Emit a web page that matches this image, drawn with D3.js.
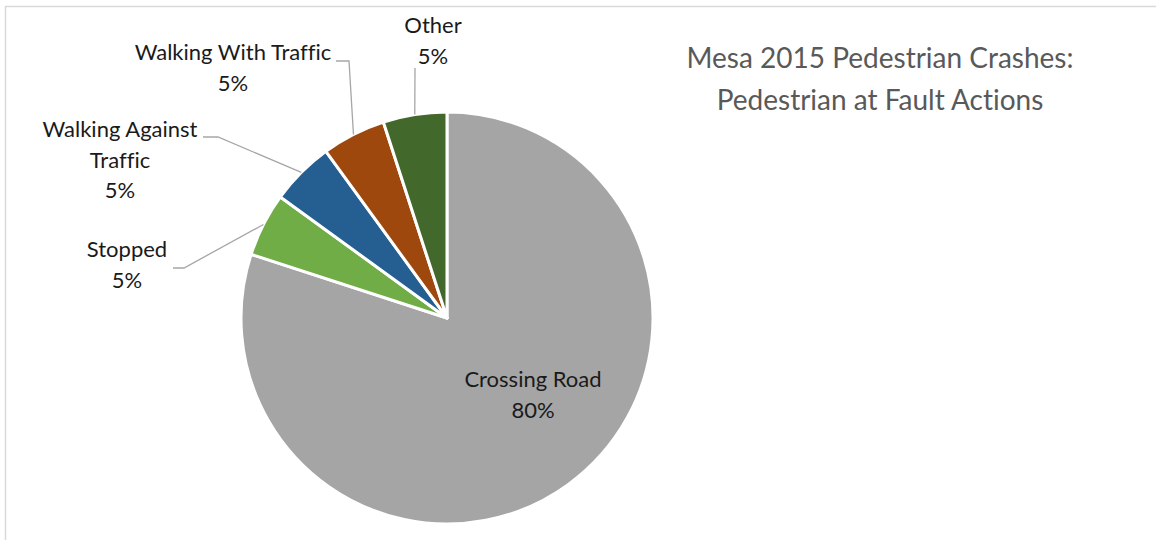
<!DOCTYPE html>
<html><head><meta charset="utf-8">
<script src="https://cdn.jsdelivr.net/npm/d3@7"></script>
<style>html,body{margin:0;padding:0;background:#fff;}svg{display:block;}text{font-variant-ligatures:none;}</style>
</head><body>
<svg id="chart" width="1156" height="540"></svg>
<script>
const categories = ["Crossing Road", "Stopped", "Walking Against Traffic", "Walking With Traffic", "Other"];
const values = [80, 5, 5, 5, 5];
const percentLabels = ["80%", "5%", "5%", "5%", "5%"];
const titleLines = ["Mesa 2015 Pedestrian Crashes:", "Pedestrian at Fault Actions"];

const colors = ["#A5A5A5", "#70AD47", "#255E91", "#9E480E", "#43682B"];
// label layout: text lines, anchor (cx, first baseline), leader elbow & end
const labelLayout = [
  {lines:["Crossing Road","80%"], x:533, y:387, inside:true},
  {lines:["Stopped","5%"], x:127, y:257, elbow:[184,268], end:[173,268]},
  {lines:["Walking Against","Traffic","5%"], x:120, y:137, elbow:[218,137], end:[203,137]},
  {lines:["Walking With Traffic","5%"], x:233, y:60, elbow:[349,61], end:[336,61]},
  {lines:["Other","5%"], x:433, y:33, elbow:null, end:[415,68]}
];

const svg = d3.select("#chart");
const W = 1156, H = 540;
const font = "Lato, 'Open Sans', sans-serif";

// chart frame
svg.append("rect").attr("x",5.5).attr("y",6.5).attr("width",W+10).attr("height",H+10)
  .attr("fill","#fff").attr("stroke","#D9D9D9").attr("stroke-width",1.5);

const cx = 447, cy = 318, R = 206;
const pie = d3.pie().sort(null).value(d => d)(values);
const arc = d3.arc().innerRadius(0).outerRadius(R);
const g = svg.append("g").attr("transform", `translate(${cx},${cy})`);
g.selectAll("path").data(pie).join("path")
  .attr("d", arc)
  .attr("fill", (d,i) => colors[i])
  .attr("stroke", "#fff").attr("stroke-width", 3).attr("stroke-linejoin","round");

// leader lines
pie.forEach((d,i) => {
  const L = labelLayout[i];
  if (L.inside) return;
  const a = (d.startAngle + d.endAngle)/2;
  const p0 = [cx + R*Math.sin(a), cy - R*Math.cos(a)];
  const pts = [p0];
  if (L.elbow) pts.push(L.elbow);
  pts.push(L.end);
  svg.append("path").attr("d", d3.line()(pts))
    .attr("fill","none").attr("stroke","#A6A6A6").attr("stroke-width",1.3);
});

// labels
labelLayout.forEach((L,i) => {
  const t = svg.append("text").attr("text-anchor","middle")
    .attr("font-family", font).attr("font-size", 22).attr("fill","#1a1a1a");
  L.lines.forEach((ln,j) => {
    t.append("tspan").attr("x", L.x).attr("y", L.y + j*30.5).text(ln);
  });
});

// title
const tt = svg.append("text").attr("text-anchor","middle")
  .attr("font-family", font).attr("font-size", 28).attr("fill","#595959");
titleLines.forEach((ln,j) => {
  tt.append("tspan").attr("x", 880).attr("y", 68 + j*42).text(ln);
});
</script>
</body></html>
